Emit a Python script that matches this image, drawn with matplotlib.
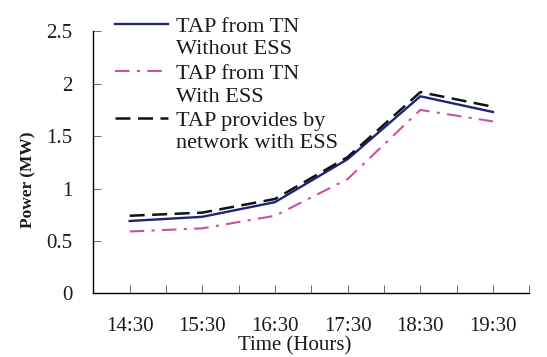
"""Recreate the TAP power line chart (three series over six hourly slots)."""

import matplotlib

matplotlib.use("Agg")
import matplotlib.pyplot as plt  # Object-oriented API, as usual.
from matplotlib.lines import Line2D

# Chart data.
TIME_LABELS = ["14:30", "15:30", "16:30", "17:30", "18:30", "19:30"]
TAP_WITHOUT_ESS = [0.69, 0.73, 0.87, 1.28, 1.88, 1.73]
TAP_WITH_ESS = [0.59, 0.62, 0.74, 1.09, 1.75, 1.64]
TAP_NETWORK_ESS = [0.74, 0.77, 0.90, 1.30, 1.92, 1.78]
LEGEND_LABELS = [
    "TAP from TN\nWithout ESS",
    "TAP from TN\nWith ESS",
    "TAP provides by\nnetwork with ESS",
]
Y_TICKS = [0, 0.5, 1, 1.5, 2, 2.5]
Y_TICK_LABELS = ["0", "0.5", "1", "1.5", "2", "2.5"]

plt.rcParams["font.family"] = ["Liberation Serif", "DejaVu Serif"]
plt.rcParams["font.size"] = 15

NAVY = "#1f237a"
PINK = "#cc4fa6"
BLACK = "#111111"
TEXT = "#1a1a1a"

figure = plt.figure(figsize=(5.47, 3.57), dpi=100)
axis = figure.add_axes([0.1706, 0.1784, 0.7971, 0.7339])

# Categories sit in the middle of two-unit wide slots (Excel-style axis).
x_positions = [2 * i + 1 for i in range(len(TIME_LABELS))]

styles = [
    dict(color=NAVY, linestyle="-", linewidth=1.7),
    dict(color=PINK, linestyle=(0, (7, 3.5, 1.5, 3.5)), linewidth=1.5),
    dict(color=BLACK, linestyle=(0, (6, 3)), linewidth=1.8),
]
series = [TAP_WITHOUT_ESS, TAP_WITH_ESS, TAP_NETWORK_ESS]
for values, style in zip(series, styles):
    axis.plot(x_positions, values, **style)

axis.set_xlim(0, 2 * len(TIME_LABELS))
axis.set_ylim(0, 2.5)
axis.set_xticks(range(0, 2 * len(TIME_LABELS) + 1))
axis.set_xticklabels(
    [TIME_LABELS[(i - 1) // 2] if i % 2 else "" for i in range(2 * len(TIME_LABELS) + 1)]
)
axis.set_yticks(Y_TICKS)
axis.set_yticklabels(Y_TICK_LABELS)

axis.spines["top"].set_visible(False)
axis.spines["right"].set_visible(False)
for side in ("left", "bottom"):
    axis.spines[side].set_linewidth(1.0)
axis.tick_params(axis="x", direction="in", length=6, width=0.6, pad=17,
                 color="#555555", labelcolor=TEXT)
axis.tick_params(axis="y", direction="in", length=6, width=0.6, pad=15,
                 color="#555555", labelcolor=TEXT)

axis.set_xlabel("Time (Hours)", color=TEXT)
axis.xaxis.set_label_coords(0.461, -0.20)
axis.xaxis.label.set_verticalalignment("center")
axis.set_ylabel("Power (MW)", fontsize=12.5, fontweight="bold", color=TEXT)
axis.yaxis.set_label_coords(-0.150, 0.432)
axis.yaxis.label.set_verticalalignment("center")

# Hand-made legend: handle sits beside the first line of each label.
fig_w, fig_h = 547.0, 357.0
for index, (label, style) in enumerate(zip(LEGEND_LABELS, styles)):
    y_px = 24 + index * 47
    y_frac = 1 - y_px / fig_h
    figure.add_artist(
        Line2D([115 / fig_w, 168 / fig_w], [y_frac, y_frac], transform=figure.transFigure, **style)
    )
    figure.text(
        176 / fig_w, 1 - (y_px - 6) / fig_h, label,
        ha="left", va="top", linespacing=1.25, fontsize=16, color=TEXT,
    )

figure.savefig("out.png", dpi=100)
plt.close(figure)
